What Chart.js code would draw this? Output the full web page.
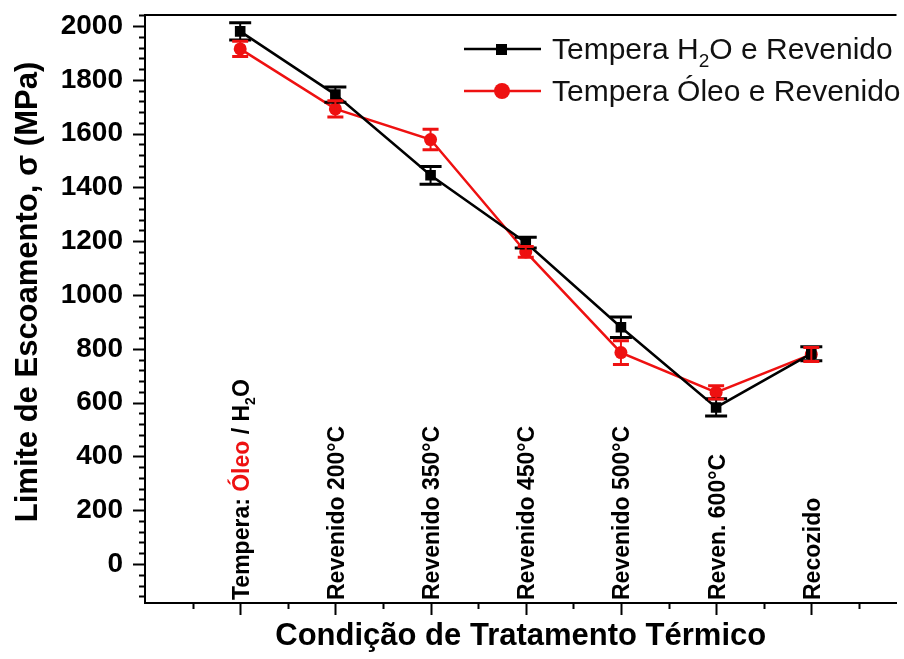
<!DOCTYPE html>
<html>
<head>
<meta charset="utf-8">
<script src="https://cdn.jsdelivr.net/npm/chart.js@4.4.1/dist/chart.umd.min.js"></script>
<style>
  html, body { margin: 0; padding: 0; background: #fff; }
  canvas { display: block; }
</style>
</head>
<body>
<canvas id="grafico" width="904" height="659"></canvas>
<script>
// Condições de tratamento térmico (eixo x)
const condicoes = ['Tempera: Óleo / H2O', 'Revenido 200°C', 'Revenido 350°C', 'Revenido 450°C', 'Revenido 500°C', 'Reven. 600°C', 'Recozido'];

// Limite de escoamento (MPa) e desvio de cada série
const temperaAgua = [1980, 1745, 1445, 1195, 880, 582, 782];
const erroAgua = [32, 28, 33, 20, 38, 32, 26];
const temperaOleo = [1915, 1692, 1578, 1160, 786, 638, 779];
const erroOleo = [28, 30, 38, 20, 44, 25, 26];

const legendas = ['Tempera H2O e Revenido', 'Tempera Óleo e Revenido'];
const ticksY = [0, 200, 400, 600, 800, 1000, 1200, 1400, 1600, 1800, 2000];
const tituloY = 'Limite de Escoamento, σ (MPa)';

const VERMELHO = '#ee1111';
const FONTE = '"Liberation Sans", Arial, sans-serif';
Chart.defaults.font.family = FONTE;
Chart.defaults.color = '#000';

// Quebra o texto em pedaços: H2O com 2 subscrito, Óleo em vermelho (opcional)
function partes(texto, destacarOleo) {
    const out = [];
    texto.split(/(Óleo|H2O)/).forEach(p => {
        if (!p) return;
        if (p === 'H2O') {
            out.push({ t: 'H' }, { t: '2', sub: true }, { t: 'O' });
        } else if (p === 'Óleo' && destacarOleo) {
            out.push({ t: p, cor: VERMELHO });
        } else {
            out.push({ t: p });
        }
    });
    return out;
}

function desenhaTexto(ctx, pecas, x, y, peso, tam, cor) {
    let cx = x;
    pecas.forEach(p => {
        const s = p.sub ? Math.round(tam * 0.62) : tam;
        ctx.font = peso + ' ' + s + 'px ' + FONTE;
        ctx.fillStyle = p.cor || cor;
        ctx.fillText(p.t, cx, y + (p.sub ? tam * 0.28 : 0));
        cx += ctx.measureText(p.t).width;
    });
}

// Barras de erro, desenhadas com a escala y do gráfico
const barrasErro = {
    id: 'barrasErro',
    afterDatasetsDraw(chart) {
        const ctx = chart.ctx;
        const ys = chart.scales.y;
        chart.data.datasets.forEach((ds, i) => {
            const meta = chart.getDatasetMeta(i);
            ctx.save();
            ctx.strokeStyle = ds.borderColor;
            meta.data.forEach((pt, j) => {
                const v = ds.data[j].y, e = ds.erros[j];
                const y1 = ys.getPixelForValue(v + e);
                const y2 = ys.getPixelForValue(v - e);
                const w = ds.capa / 2;
                ctx.lineWidth = 2;
                ctx.beginPath();
                ctx.moveTo(pt.x, y1); ctx.lineTo(pt.x, y2);
                ctx.stroke();
                ctx.lineWidth = 3;
                ctx.beginPath();
                ctx.moveTo(pt.x - w, y1); ctx.lineTo(pt.x + w, y1);
                ctx.moveTo(pt.x - w, y2); ctx.lineTo(pt.x + w, y2);
                ctx.stroke();
            });
            ctx.restore();
        });
    }
};

// Marcas dos eixos, borda superior, rótulos das condições, título y e legenda
const enfeites = {
    id: 'enfeites',
    afterDraw(chart) {
        const ctx = chart.ctx;
        const { left, right, top, bottom } = chart.chartArea;
        const xs = chart.scales.x, ys = chart.scales.y;
        ctx.save();
        ctx.strokeStyle = '#000';
        ctx.lineWidth = 2;
        ctx.beginPath();
        ctx.moveTo(left - 1, top); ctx.lineTo(right, top);
        for (let v = Math.ceil(ys.min / 40) * 40; v <= ys.max; v += 40) {
            const y = Math.round(ys.getPixelForValue(v)) + 0.5;
            const len = v % 200 === 0 ? 12 : 6;
            ctx.moveTo(left - len, y); ctx.lineTo(left, y);
        }
        for (let v = 0.5; v <= xs.max; v += 0.5) {
            const x = Math.round(xs.getPixelForValue(v)) + 0.5;
            const len = Number.isInteger(v) ? 12 : 6;
            ctx.moveTo(x, bottom); ctx.lineTo(x, bottom + len);
        }
        ctx.stroke();

        // título do eixo y
        ctx.save();
        ctx.translate(28, 292);
        ctx.rotate(-Math.PI / 2);
        ctx.textAlign = 'center';
        ctx.textBaseline = 'middle';
        ctx.font = 'bold 31px ' + FONTE;
        ctx.fillStyle = '#000';
        ctx.fillText(tituloY, 0, 0);
        ctx.restore();

        // rótulos verticais dentro da área do gráfico
        ctx.textBaseline = 'alphabetic';
        ctx.textAlign = 'left';
        condicoes.forEach((c, i) => {
            const x = xs.getPixelForValue(i + 1);
            ctx.save();
            ctx.translate(x + 8.5, bottom - 3);
            ctx.rotate(-Math.PI / 2);
            desenhaTexto(ctx, partes(c, true), 0, 0, 'bold', 23, '#000');
            ctx.restore();
        });

        // legenda
        chart.data.datasets.forEach((ds, i) => {
            const y = 49 + i * 42;
            ctx.strokeStyle = ds.borderColor;
            ctx.fillStyle = ds.borderColor;
            ctx.lineWidth = ds.borderWidth;
            ctx.beginPath();
            ctx.moveTo(464, y); ctx.lineTo(541, y);
            ctx.stroke();
            ctx.beginPath();
            if (ds.pointStyle === 'rect') {
                ctx.rect(496, y - 5, 11, 11);
            } else {
                ctx.arc(502, y, 8, 0, Math.PI * 2);
            }
            ctx.fill();
            desenhaTexto(ctx, partes(ds.label, false), 552, y + 10, 'normal', 30, '#111');
        });
        ctx.restore();
    }
};

const pontos = serie => serie.map((v, i) => ({ x: i + 1, y: v }));

new Chart(document.getElementById('grafico'), {
    type: 'line',
    data: {
        datasets: [{
            label: legendas[0],
            data: pontos(temperaAgua),
            erros: erroAgua,
            capa: 22,
            borderColor: '#000',
            backgroundColor: '#000',
            borderWidth: 2.5,
            pointStyle: 'rect',
            pointRadius: 7.5,
            pointBorderWidth: 0
        }, {
            label: legendas[1],
            data: pontos(temperaOleo),
            erros: erroOleo,
            capa: 16,
            borderColor: VERMELHO,
            backgroundColor: VERMELHO,
            borderWidth: 2.5,
            pointStyle: 'circle',
            pointRadius: 6.5,
            pointBorderWidth: 0
        }]
    },
    options: {
        responsive: false,
        animation: false,
        events: [],
        devicePixelRatio: 1,
        layout: { padding: { top: 15, right: 0, left: 0, bottom: 0 } },
        plugins: { legend: { display: false }, tooltip: { enabled: false } },
        scales: {
            x: {
                type: 'linear',
                min: 0,
                max: 7.895,
                grid: { display: false, drawTicks: false },
                border: { color: '#000', width: 2 },
                ticks: { display: false },
                title: {
                    display: true,
                    text: 'Condição de Tratamento Térmico',
                    font: { size: 31, weight: 'bold' },
                    color: '#000',
                    padding: { top: 0, bottom: 4 }
                },
                afterFit: s => { s.height = 56; s.paddingLeft = 0; s.paddingRight = 0; }
            },
            y: {
                min: -145,
                max: 2041,
                grid: { display: false, drawTicks: false },
                border: { color: '#000', width: 2 },
                afterBuildTicks: s => { s.ticks = ticksY.map(v => ({ value: v })); },
                ticks: {
                    padding: 22,
                    font: { size: 28, weight: 'bold' },
                    color: '#000',
                    callback: v => String(v)
                },
                afterFit: s => { s.width = 145; s.paddingTop = 0; s.paddingBottom = 0; }
            }
        }
    },
    plugins: [barrasErro, enfeites]
});
</script>
</body>
</html>
